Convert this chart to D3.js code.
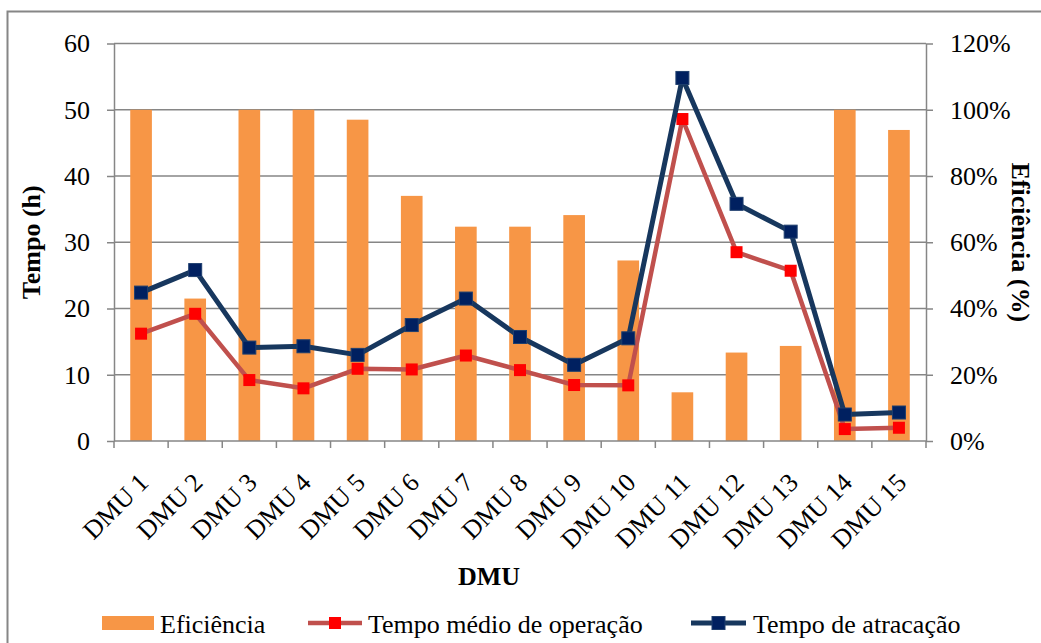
<!DOCTYPE html>
<html>
<head>
<meta charset="utf-8">
<script src="https://cdn.jsdelivr.net/npm/d3@7"></script>
<style>
  body { margin: 0; background: #fff; }
  svg text { font-family: 'Liberation Serif' !important; }
</style>
</head>
<body>
<div id="chartView"></div>
<script>
// values
var categories = ['DMU 1','DMU 2','DMU 3','DMU 4','DMU 5','DMU 6','DMU 7','DMU 8',
                  'DMU 9','DMU 10','DMU 11','DMU 12','DMU 13','DMU 14','DMU 15'];
var eficiencia = [1.00, 0.43, 1.00, 1.00, 0.97, 0.74, 0.647, 0.647, 0.682, 0.545, 0.147, 0.267, 0.287, 1.00, 0.939];
var tempoOperacao = [16.2, 19.2, 9.2, 7.95, 10.9, 10.8, 12.9, 10.7, 8.45, 8.4, 48.6, 28.5, 25.7, 1.8, 2.0];
var tempoAtracacao = [22.4, 25.8, 14.1, 14.3, 13.0, 17.5, 21.5, 15.7, 11.5, 15.5, 54.8, 35.8, 31.6, 4.0, 4.3];
var leftTicks = [0, 10, 20, 30, 40, 50, 60];
var rightTicks = [0, 0.2, 0.4, 0.6, 0.8, 1.0, 1.2];

var margin = { top: 43.5, right: 115, bottom: 202, left: 114 };
var width = 1041, height = 643;
var chartWidth = width - margin.left - margin.right;
var chartHeight = height - margin.top - margin.bottom;
var gray = '#868686';
var FONT = 'Liberation Serif';

var svg = d3.select('#chartView').append('svg')
    .attr('width', width)
    .attr('height', height)
    .attr('font-family', FONT);

// outer chart frame
svg.append('rect')
    .attr('x', 7.5).attr('y', 11.5)
    .attr('width', 1100).attr('height', 700)
    .attr('fill', 'none').attr('stroke', gray).attr('stroke-width', 2);

var g = svg.append('g').attr('transform', 'translate(' + margin.left + ',' + margin.top + ')');

var xScale = d3.scaleBand().domain(categories).range([0, chartWidth]).paddingInner(0.6).paddingOuter(0.3);
var xPoint = function (d) { return xScale(d) + xScale.bandwidth() / 2; };
var yLeft = d3.scaleLinear().domain([0, 60]).range([chartHeight, 0]);
var yRight = d3.scaleLinear().domain([0, 1.2]).range([chartHeight, 0]);

// gridlines
g.append('g').attr('class', 'grid')
    .selectAll('line').data(leftTicks.slice(1)).enter().append('line')
    .attr('x1', 0).attr('x2', chartWidth)
    .attr('y1', function (d) { return yLeft(d); })
    .attr('y2', function (d) { return yLeft(d); })
    .attr('stroke', gray).attr('stroke-width', 1.5);

// bars
g.append('g').attr('class', 'bars')
    .selectAll('rect').data(eficiencia).enter().append('rect')
    .attr('x', function (d, i) { return xScale(categories[i]); })
    .attr('width', xScale.bandwidth())
    .attr('y', function (d) { return yRight(d); })
    .attr('height', function (d) { return chartHeight - yRight(d); })
    .attr('fill', '#F79646');

// axes
function styleAxis(sel) {
    sel.attr('font-family', FONT);
    sel.selectAll('path').attr('stroke', gray).attr('stroke-width', 1.5);
    sel.selectAll('line').attr('stroke', gray).attr('stroke-width', 1.5);
    sel.selectAll('text').attr('font-size', 26).attr('font-family', FONT).style('font-family', FONT);
}

var leftAxis = g.append('g')
    .call(d3.axisLeft(yLeft).tickValues(leftTicks).tickSize(7).tickSizeOuter(0).tickPadding(17));
styleAxis(leftAxis);

var rightAxis = g.append('g').attr('transform', 'translate(' + chartWidth + ',0)')
    .call(d3.axisRight(yRight).tickValues(rightTicks).tickSize(7).tickSizeOuter(0).tickPadding(17)
        .tickFormat(d3.format('.0%')));
styleAxis(rightAxis);

var xAxis = g.append('g').attr('transform', 'translate(0,' + chartHeight + ')');
xAxis.append('line').attr('x1', 0).attr('x2', chartWidth)
    .attr('stroke', gray).attr('stroke-width', 1.5);
var step = chartWidth / categories.length;
xAxis.selectAll('.tickmark').data(d3.range(categories.length + 1)).enter().append('line')
    .attr('class', 'tickmark')
    .attr('x1', function (d) { return d * step; }).attr('x2', function (d) { return d * step; })
    .attr('y1', 0).attr('y2', 7)
    .attr('stroke', gray).attr('stroke-width', 1.5);
xAxis.selectAll('.xlabel').data(categories).enter().append('text')
    .attr('class', 'xlabel')
    .attr('text-anchor', 'end')
    .attr('font-size', 26)
    .attr('font-family', FONT)
    .attr('transform', function (d) {
        return 'translate(' + (xPoint(d) + 9) + ',' + 43 + ') rotate(-45)';
    })
    .text(function (d) { return d; });

// lines
function drawSeries(values, lineColor, markerColor, markerStroke, lw, ms) {
    var line = d3.line()
        .x(function (d, i) { return xPoint(categories[i]); })
        .y(function (d) { return yLeft(d); });
    var s = g.append('g');
    s.append('path').datum(values)
        .attr('d', line)
        .attr('fill', 'none')
        .attr('stroke', lineColor)
        .attr('stroke-width', lw)
        .attr('stroke-linejoin', 'round');
    s.selectAll('rect').data(values).enter().append('rect')
        .attr('x', function (d, i) { return xPoint(categories[i]) - ms / 2; })
        .attr('y', function (d) { return yLeft(d) - ms / 2; })
        .attr('width', ms).attr('height', ms)
        .attr('fill', markerColor)
        .attr('stroke', markerStroke).attr('stroke-width', markerStroke === 'none' ? 0 : 1);
}
drawSeries(tempoOperacao, '#C0504D', '#FF0000', 'none', 4.5, 12);
drawSeries(tempoAtracacao, '#17375E', '#002060', '#1F3F6E', 5, 13);

// axis titles and legend texts
function addText(parent, x, y, txt, opts) {
    opts = opts || {};
    var t = parent.append('text')
        .attr('font-size', 26)
        .attr('font-family', FONT)
        .text(txt);
    if (opts.rotate) t.attr('transform', 'translate(' + x + ',' + y + ') rotate(' + opts.rotate + ')');
    else t.attr('x', x).attr('y', y);
    if (opts.anchor) t.attr('text-anchor', opts.anchor);
    if (opts.bold) t.attr('font-weight', 'bold');
    return t;
}
addText(svg, 40, margin.top + chartHeight / 2, 'Tempo (h)', { rotate: -90, anchor: 'middle', bold: true });
addText(svg, 1012, margin.top + chartHeight / 2, 'Eficiência (%)', { rotate: 90, anchor: 'middle', bold: true });
addText(svg, 489, 585, 'DMU', { anchor: 'middle', bold: true });

// legend
var legend = svg.append('g').attr('class', 'legend');
legend.append('rect').attr('x', 102).attr('y', 616).attr('width', 52).attr('height', 14).attr('fill', '#F79646');
addText(legend, 160, 633, 'Eficiência');

legend.append('line').attr('x1', 308).attr('x2', 362).attr('y1', 623).attr('y2', 623)
    .attr('stroke', '#C0504D').attr('stroke-width', 4.5);
legend.append('rect').attr('x', 329).attr('y', 617).attr('width', 12).attr('height', 12).attr('fill', '#FF0000');
addText(legend, 368, 633, 'Tempo médio de operação');

legend.append('line').attr('x1', 691).attr('x2', 746).attr('y1', 623).attr('y2', 623)
    .attr('stroke', '#17375E').attr('stroke-width', 5);
legend.append('rect').attr('x', 712).attr('y', 616.5).attr('width', 13).attr('height', 13)
    .attr('fill', '#002060').attr('stroke', '#1F3F6E').attr('stroke-width', 1);
addText(legend, 753, 633, 'Tempo de atracação');
</script>
</body>
</html>
